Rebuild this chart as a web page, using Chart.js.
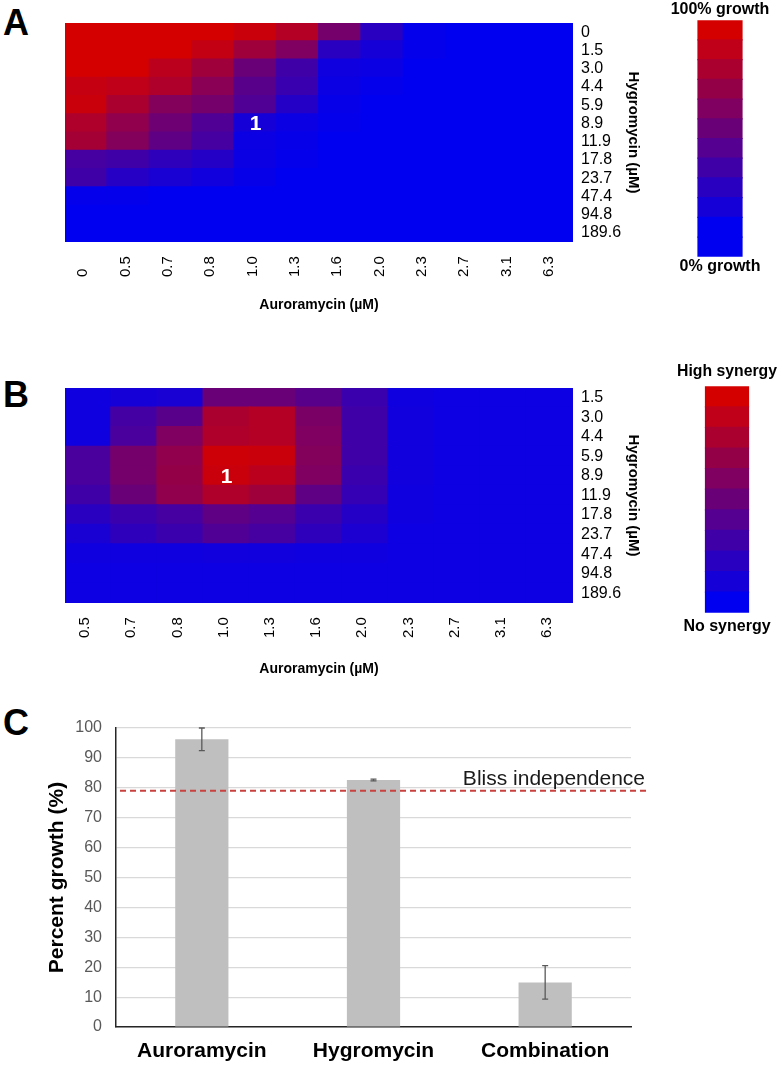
<!DOCTYPE html>
<html>
<head>
<meta charset="utf-8">
<script src="https://cdn.jsdelivr.net/npm/chart.js@4.4.1/dist/chart.umd.min.js"></script>
<style>
  html, body { margin: 0; padding: 0; background: #fff; }
  #page { position: relative; width: 782px; height: 1066px; overflow: hidden; font-family: 'Liberation Sans', Arial, sans-serif; }
  .box { position: absolute; }
  .panel { position: absolute; font-weight: bold; font-size: 36px; line-height: 36px; color: #000; }
</style>
</head>
<body>
<div id="page">
  <div class="panel" style="left:3px;top:5px">A</div>
  <div class="panel" style="left:3px;top:377px">B</div>
  <div class="panel" style="left:3px;top:705px">C</div>

  <div class="box" style="left:0;top:0;width:670px;height:320px"><canvas id="heatA"></canvas></div>
  <div class="box" style="left:670px;top:0;width:100px;height:290px"><canvas id="barA"></canvas></div>
  <div class="box" style="left:0;top:360px;width:670px;height:320px"><canvas id="heatB"></canvas></div>
  <div class="box" style="left:677px;top:350px;width:100px;height:296px"><canvas id="barB"></canvas></div>
  <div class="box" style="left:0;top:700px;width:782px;height:366px"><canvas id="growth"></canvas></div>
</div>

<script>
// ---- data ----

// Panel A: percent growth (0..1) for each Hygromycin row x Auroramycin column
const auroramycinA = ['0', '0.5', '0.7', '0.8', '1.0', '1.3', '1.6', '2.0', '2.3', '2.7', '3.1', '6.3'];
const hygromycinA = ['0', '1.5', '3.0', '4.4', '5.9', '8.9', '11.9', '17.8', '23.7', '47.4', '94.8', '189.6'];
const growthA = [
  [1.00, 1.00, 1.00, 1.00, 0.95, 0.85, 0.55, 0.20, 0.02, 0, 0, 0],
  [1.00, 1.00, 1.00, 0.92, 0.75, 0.60, 0.20, 0.10, 0.02, 0, 0, 0],
  [1.00, 1.00, 0.88, 0.75, 0.50, 0.30, 0.07, 0.05, 0, 0, 0, 0],
  [0.93, 0.90, 0.82, 0.65, 0.42, 0.27, 0.05, 0.02, 0, 0, 0, 0],
  [0.95, 0.80, 0.62, 0.55, 0.38, 0.17, 0.03, 0, 0, 0, 0, 0],
  [0.82, 0.68, 0.52, 0.38, 0.10, 0.05, 0.02, 0, 0, 0, 0, 0],
  [0.78, 0.62, 0.45, 0.33, 0.05, 0.03, 0, 0, 0, 0, 0, 0],
  [0.33, 0.30, 0.22, 0.17, 0.05, 0.02, 0, 0, 0, 0, 0, 0],
  [0.30, 0.18, 0.12, 0.08, 0.03, 0, 0, 0, 0, 0, 0, 0],
  [0.02, 0.02, 0, 0, 0, 0, 0, 0, 0, 0, 0, 0],
  [0, 0, 0, 0, 0, 0, 0, 0, 0, 0, 0, 0],
  [0, 0, 0, 0, 0, 0, 0, 0, 0, 0, 0, 0]
];
const growthSteps = [1.0, 0.9, 0.8, 0.7, 0.6, 0.5, 0.4, 0.3, 0.2, 0.1, 0, 0];

// Panel B: synergy score (0..1)
const auroramycinB = ['0.5', '0.7', '0.8', '1.0', '1.3', '1.6', '2.0', '2.3', '2.7', '3.1', '6.3'];
const hygromycinB = ['1.5', '3.0', '4.4', '5.9', '8.9', '11.9', '17.8', '23.7', '47.4', '94.8', '189.6'];
const synergyB = [
  [0.07, 0.10, 0.12, 0.50, 0.50, 0.42, 0.28, 0.07, 0.06, 0.06, 0.06],
  [0.07, 0.32, 0.42, 0.80, 0.85, 0.58, 0.30, 0.08, 0.06, 0.06, 0.06],
  [0.07, 0.35, 0.60, 0.82, 0.85, 0.60, 0.30, 0.08, 0.06, 0.06, 0.06],
  [0.35, 0.55, 0.68, 0.97, 0.95, 0.62, 0.30, 0.08, 0.06, 0.06, 0.06],
  [0.35, 0.55, 0.70, 0.95, 0.88, 0.60, 0.28, 0.08, 0.06, 0.06, 0.06],
  [0.30, 0.50, 0.68, 0.82, 0.75, 0.45, 0.25, 0.07, 0.06, 0.06, 0.06],
  [0.20, 0.28, 0.33, 0.45, 0.40, 0.28, 0.17, 0.07, 0.06, 0.06, 0.06],
  [0.12, 0.22, 0.28, 0.38, 0.33, 0.22, 0.13, 0.06, 0.06, 0.06, 0.06],
  [0.07, 0.07, 0.07, 0.08, 0.08, 0.07, 0.07, 0.06, 0.06, 0.06, 0.06],
  [0.06, 0.06, 0.06, 0.06, 0.06, 0.06, 0.06, 0.06, 0.06, 0.06, 0.06],
  [0.06, 0.06, 0.06, 0.06, 0.06, 0.06, 0.06, 0.06, 0.06, 0.06, 0.06]
];
const synergySteps = [1.0, 0.9, 0.8, 0.7, 0.6, 0.5, 0.4, 0.3, 0.2, 0.1, 0];

// Marked cell "1" (same dose pair in both maps)
const markedAuroramycin = '1.0';
const markedHygromycin = '8.9';

// Panel C
const treatments = ['Auroramycin', 'Hygromycin', 'Combination'];
const growthMeans = [96.2, 82.6, 14.9];
const growthErrors = [3.8, 0.3, 5.6];
const blissIndependence = 79;

// ---- helpers ----
const FONT = "'Liberation Sans', Arial, sans-serif";

/**
 * Blue -> red colour ramp used by both heatmaps and colorbars
 */
function heatColor(v) {
  const r = Math.round(212 * v);
  const b = Math.round(240 * (1 - v));
  return `rgb(${r},0,${b})`;
}

/**
 * Draws the rotated column labels and the white cell marker
 */
const heatLabels = {
  id: 'heatLabels',
  afterDraw(chart, args, opts) {
    const { ctx, chartArea, scales } = chart;
    const x = scales.x;
    ctx.save();
    ctx.fillStyle = '#000';
    ctx.font = `15px ${FONT}`;
    ctx.textAlign = 'left';
    ctx.textBaseline = 'middle';
    x.getLabels().forEach((label, i) => {
      ctx.save();
      ctx.translate(x.getPixelForTick(i) - 3, chartArea.bottom + 35);
      ctx.rotate(-Math.PI / 2);
      ctx.fillText(label, 0, 0);
      ctx.restore();
    });

    const col = x.getLabels().indexOf(opts.col);
    const row = scales.rowLabels.getLabels().indexOf(opts.row);
    ctx.fillStyle = '#fff';
    ctx.font = `bold 21px ${FONT}`;
    ctx.textAlign = 'center';
    ctx.fillText('1', x.getPixelForValue(col), scales.rowLabels.getPixelForValue(row) + 1);
    ctx.restore();
  }
};

/**
 * Heatmap as stacked unit bars: one dataset per row, bottom row first
 */
function createHeatmap(canvas, cols, rows, values, opts) {
  const datasets = rows.map((row, i) => ({
    label: row,
    data: cols.map(() => 1),
    backgroundColor: values[i].map(heatColor),
    borderWidth: 0,
    inflateAmount: 1,
    barPercentage: 1,
    categoryPercentage: 1
  })).reverse();

  return new Chart(canvas.getContext('2d'), {
    type: 'bar',
    data: { labels: cols, datasets: datasets },
    options: {
      responsive: true,
      maintainAspectRatio: false,
      animation: false,
      layout: { padding: { left: 65, top: opts.top, right: 0, bottom: 0 } },
      plugins: {
        legend: { display: false },
        tooltip: { enabled: false },
        heatLabels: { col: markedAuroramycin, row: markedHygromycin }
      },
      scales: {
        x: {
          stacked: true,
          grid: { display: false, drawTicks: false },
          border: { display: false },
          ticks: { display: false },
          title: {
            display: true,
            text: 'Auroramycin (µM)',
            color: '#000',
            font: { family: FONT, size: 14, weight: 'bold' },
            padding: { top: 0, bottom: opts.titlePad }
          },
          afterFit: s => { s.height = opts.xHeight; }
        },
        y: { stacked: true, display: false, min: 0, max: rows.length },
        rowLabels: {
          type: 'category',
          labels: rows,
          position: 'right',
          offset: true,
          grid: { display: false, drawTicks: false },
          border: { display: false },
          ticks: { color: '#000', font: { family: FONT, size: 16 }, padding: 8, autoSkip: false },
          title: {
            display: true,
            text: 'Hygromycin (µM)',
            color: '#000',
            font: { family: FONT, size: 15, weight: 'bold' },
            padding: { top: 28, bottom: 0 }
          },
          afterFit: s => { s.width = 97; }
        }
      }
    },
    plugins: [heatLabels]
  });
}

/**
 * Colorbar as a single stacked bar with one band per step
 */
function createColorbar(canvas, steps, topText, bottomText, opts) {
  const datasets = steps.map(v => ({
    data: [1],
    backgroundColor: heatColor(v),
    borderWidth: 0,
    inflateAmount: 0.6,
    barPercentage: opts.barPercentage,
    categoryPercentage: 1
  })).reverse();

  return new Chart(canvas.getContext('2d'), {
    type: 'bar',
    data: { labels: [''], datasets: datasets },
    options: {
      responsive: true,
      maintainAspectRatio: false,
      animation: false,
      plugins: {
        legend: { display: false },
        tooltip: { enabled: false },
        title: {
          display: true,
          text: topText,
          color: '#000',
          font: { family: FONT, size: 16, weight: 'bold' },
          padding: opts.titlePad
        },
        subtitle: {
          display: true,
          position: 'bottom',
          text: bottomText,
          color: '#000',
          font: { family: FONT, size: 16, weight: 'bold' },
          padding: opts.subtitlePad
        }
      },
      scales: {
        x: { stacked: true, display: false },
        y: { stacked: true, display: false, min: 0, max: steps.length }
      }
    }
  });
}

/**
 * Error bars and Bliss independence line for the growth chart
 */
const growthExtras = {
  id: 'growthExtras',
  afterDatasetsDraw(chart) {
    const { ctx, chartArea, scales } = chart;
    const y = scales.y;
    const meta = chart.getDatasetMeta(0);
    ctx.save();

    // error bars
    ctx.strokeStyle = '#595959';
    ctx.lineWidth = 1.3;
    growthMeans.forEach((m, i) => {
      const x = meta.data[i].x;
      const y1 = y.getPixelForValue(m - growthErrors[i]);
      const y2 = y.getPixelForValue(m + growthErrors[i]);
      ctx.beginPath();
      ctx.moveTo(x, y1); ctx.lineTo(x, y2);
      ctx.moveTo(x - 3, y1); ctx.lineTo(x + 3, y1);
      ctx.moveTo(x - 3, y2); ctx.lineTo(x + 3, y2);
      ctx.stroke();
    });

    // Bliss independence
    const by = y.getPixelForValue(blissIndependence);
    ctx.strokeStyle = '#c8423f';
    ctx.lineWidth = 2;
    ctx.setLineDash([6, 4]);
    ctx.beginPath();
    ctx.moveTo(chartArea.left + 4, by);
    ctx.lineTo(chartArea.right + 16, by);
    ctx.stroke();
    ctx.setLineDash([]);

    ctx.fillStyle = '#1a1a1a';
    ctx.font = `21px ${FONT}`;
    ctx.textAlign = 'right';
    ctx.textBaseline = 'middle';
    ctx.fillText('Bliss independence', chartArea.right + 14, by - 12);
    ctx.restore();
  }
};

function createGrowthChart(canvas) {
  return new Chart(canvas.getContext('2d'), {
    type: 'bar',
    data: {
      labels: treatments,
      datasets: [{
        data: growthMeans,
        backgroundColor: '#bfbfbf',
        borderWidth: 0,
        barPercentage: 0.31,
        categoryPercentage: 1
      }]
    },
    options: {
      responsive: true,
      maintainAspectRatio: false,
      animation: false,
      layout: { padding: { left: 0, top: 28, right: 151, bottom: 0 } },
      plugins: { legend: { display: false }, tooltip: { enabled: false } },
      scales: {
        x: {
          grid: { display: false, drawTicks: false },
          border: { display: true, color: '#262626', width: 1.5 },
          ticks: { color: '#000', font: { family: FONT, size: 21, weight: 'bold' }, padding: 12 },
          afterFit: s => { s.height = 39; }
        },
        y: {
          min: 0,
          max: 100,
          grid: { color: '#d9d9d9', lineWidth: 1.2, drawTicks: false },
          border: { display: true, color: '#262626', width: 1.5 },
          ticks: { stepSize: 10, color: '#595959', font: { family: FONT, size: 16 }, padding: 14 },
          title: {
            display: true,
            text: 'Percent growth (%)',
            color: '#000',
            font: { family: FONT, size: 21, weight: 'bold' },
            padding: { top: 45, bottom: 0 }
          },
          afterFit: s => { s.width = 116; }
        }
      }
    },
    plugins: [growthExtras]
  });
}

// ---- build ----
createHeatmap(document.getElementById('heatA'), auroramycinA, hygromycinA, growthA,
  { top: 23, xHeight: 78, titlePad: 6 });
createColorbar(document.getElementById('barA'), growthSteps, '100% growth', '0% growth',
  { barPercentage: 0.44, titlePad: { top: 0, bottom: 1 }, subtitlePad: { top: 0, bottom: 14 } });
createHeatmap(document.getElementById('heatB'), auroramycinB, hygromycinB, synergyB,
  { top: 28, xHeight: 77, titlePad: 2 });
createColorbar(document.getElementById('barB'), synergySteps, 'High synergy', 'No synergy',
  { barPercentage: 0.43, titlePad: { top: 12, bottom: 5 }, subtitlePad: { top: 4, bottom: 10 } });
createGrowthChart(document.getElementById('growth'));
</script>
</body>
</html>
